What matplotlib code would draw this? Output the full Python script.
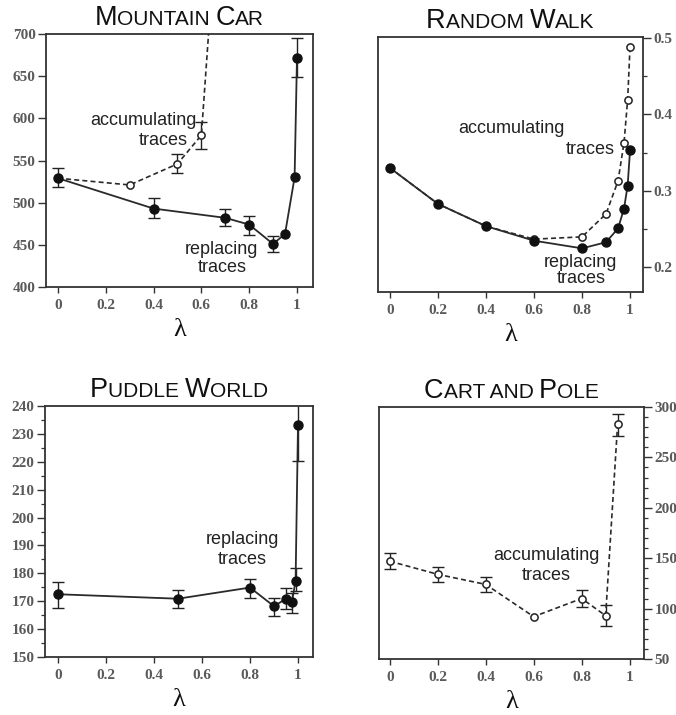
import matplotlib
matplotlib.use("Agg")
import matplotlib.pyplot as plt
import numpy as np
from matplotlib.ticker import MultipleLocator, FixedLocator
from matplotlib.offsetbox import TextArea, HPacker, AnchoredOffsetbox

# ---------------- data ----------------
# Mountain Car (steps per episode)
mc_rep_lam = [0, 0.4, 0.7, 0.8, 0.9, 0.95, 0.99, 1.0]
mc_rep_val = [529, 493, 482, 474, 451, 463, 530, 672]
mc_rep_lo = [11, 11, 10, 12, 10, 0, 0, 23]
mc_rep_hi = [12, 12, 11, 10, 10, 0, 0, 23]
mc_acc_lam = [0, 0.3, 0.5, 0.6, 0.7]
mc_acc_val = [529, 521, 546, 580, 980]
mc_acc_lo = [0, 0, 11, 16, 0]
mc_acc_hi = [0, 0, 12, 16, 0]

# Random Walk (RMS error)
rw_lam = [0, 0.2, 0.4, 0.6, 0.8, 0.9, 0.95, 0.975, 0.99, 1.0]
rw_rep_val = [0.330, 0.283, 0.254, 0.235, 0.225, 0.233, 0.251, 0.277, 0.307, 0.353]
rw_acc_val = [0.330, 0.283, 0.254, 0.237, 0.240, 0.270, 0.313, 0.363, 0.419, 0.488]

# Puddle World (cost per episode)
pw_lam = [0, 0.5, 0.8, 0.9, 0.95, 0.975, 0.99, 1.0]
pw_val = [172.5, 170.9, 174.9, 168.2, 170.9, 169.9, 177.3, 233.2]
pw_lo = [4.9, 3.5, 3.8, 3.4, 3.7, 4.3, 3.7, 12.9]
pw_hi = [4.5, 3.3, 3.0, 3.0, 3.8, 3.2, 4.5, 12.9]

# Cart and Pole (failures)
cp_lam = [0, 0.2, 0.4, 0.6, 0.8, 0.9, 0.95]
cp_val = [147, 134, 124, 92, 110, 93, 283]
cp_lo = [8, 8, 8, 0, 8, 10, 12]
cp_hi = [8, 7, 7, 0, 8, 11, 10]

xticks = [0, 0.2, 0.4, 0.6, 0.8, 1.0]
xticklabels = ["0", "0.2", "0.4", "0.6", "0.8", "1"]

# ---------------- style ----------------
W, H = 676, 715
fig = plt.figure(figsize=(W / 100, H / 100), dpi=100)

SANS = "Liberation Sans"
SERIF = "Liberation Serif"
INK = "#222222"
TICKC = "#5a5a5a"
TICKSIZE = 11


def px_axes(left, top, right, bottom):
    return fig.add_axes([left / W, 1 - bottom / H, (right - left) / W, (bottom - top) / H])


def style_ticklabels(ax):
    for lab in ax.get_xticklabels() + ax.get_yticklabels():
        lab.set_fontfamily(SERIF)
        lab.set_fontweight("bold")
        lab.set_fontsize(TICKSIZE)
        lab.set_color(TICKC)


def style_axes(ax, side):
    for s in ax.spines.values():
        s.set_linewidth(1.3)
        s.set_color("#333333")
    ax.set_xticks(xticks)
    ax.set_xticklabels(xticklabels)
    ax.tick_params(axis="x", which="both", direction="out", length=4.5, width=1,
                   color="#333333", pad=4, top=False, bottom=True)
    if side == "right":
        ax.yaxis.tick_right()
    ax.tick_params(axis="y", which="major", direction="out", length=5.5, width=1,
                   color="#333333", pad=2)
    ax.tick_params(axis="y", which="minor", direction="out", length=3, width=0.9,
                   color="#333333")
    style_ticklabels(ax)
    ax.set_xlabel("λ", fontfamily=SERIF, fontsize=19, color="#111111", labelpad=5)


def small_caps_title(ax, parts, big=19.5, small=15):
    boxes = []
    for txt, is_big in parts:
        boxes.append(TextArea(txt, textprops=dict(fontfamily=SANS, fontsize=big if is_big else small,
                                                  color="#111111")))
    pack = HPacker(children=boxes, align="baseline", pad=0, sep=0)
    anch = AnchoredOffsetbox(loc="lower center", child=pack, pad=0, borderpad=0, frameon=False,
                             bbox_to_anchor=(0.5, 1.012), bbox_transform=ax.transAxes)
    ax.add_artist(anch)


def errs(lam, val, lo, hi):
    lam, val, lo, hi = map(np.asarray, (lam, val, lo, hi))
    m = (lo > 0) | (hi > 0)
    return lam[m], val[m], np.vstack([lo[m], hi[m]])


def draw_errbars(ax, lam, val, lo, hi):
    x, y, e = errs(lam, val, lo, hi)
    ax.errorbar(x, y, yerr=e, fmt="none", ecolor="#222222", elinewidth=1.0,
                capsize=4, capthick=1.0, zorder=2)


def solid(ax, lam, val):
    ax.plot(lam, val, color="#2a2a2a", lw=1.3, marker="o", ms=6.5,
            mfc="#111111", mec="#111111", zorder=4)


def dashed(ax, lam, val):
    ln, = ax.plot(lam, val, color="#2a2a2a", lw=1.2, marker="o", ms=5.2,
                  mfc="white", mec="#222222", mew=1.1, zorder=3)
    ln.set_dashes((3, 1.9))


def label(ax, x, y, s):
    ax.text(x, y, s, fontfamily=SANS, fontsize=13, color=INK, ha="center", va="center", zorder=5)


# ---------------- Mountain Car ----------------
ax = px_axes(46, 34, 313, 287)
draw_errbars(ax, mc_acc_lam, mc_acc_val, mc_acc_lo, mc_acc_hi)
draw_errbars(ax, mc_rep_lam, mc_rep_val, mc_rep_lo, mc_rep_hi)
dashed(ax, mc_acc_lam, mc_acc_val)
solid(ax, mc_rep_lam, mc_rep_val)
ax.set_xlim(-0.05, 1.067)
ax.set_ylim(400, 700)
ax.yaxis.set_major_locator(MultipleLocator(50))
style_axes(ax, "left")
label(ax, 0.356, 598, "accumulating")
label(ax, 0.44, 574, "traces")
label(ax, 0.686, 444, "replacing")
label(ax, 0.686, 423, "traces")
small_caps_title(ax, [("M", True), ("OUNTAIN ", False), ("C", True), ("AR", False)])

# ---------------- Random Walk ----------------
ax = px_axes(378, 37, 643, 292)
dashed(ax, rw_lam, rw_acc_val)
solid(ax, rw_lam, rw_rep_val)
ax.set_xlim(-0.05, 1.054)
ax.set_ylim(0.168, 0.501)
ax.yaxis.set_major_locator(FixedLocator([0.2, 0.3, 0.4, 0.5]))
ax.yaxis.set_minor_locator(FixedLocator([0.25, 0.35, 0.45]))
ax.set_yticklabels(["0.2", "0.3", "0.4", "0.5"])
style_axes(ax, "right")
label(ax, 0.504, 0.382, "accumulating")
label(ax, 0.833, 0.3535, "traces")
label(ax, 0.792, 0.206, "replacing")
label(ax, 0.796, 0.185, "traces")
small_caps_title(ax, [("R", True), ("ANDOM ", False), ("W", True), ("ALK", False)])

# ---------------- Puddle World ----------------
ax = px_axes(45, 406, 313, 657)
draw_errbars(ax, pw_lam, pw_val, pw_lo, pw_hi)
solid(ax, pw_lam, pw_val)
ax.set_xlim(-0.054, 1.0625)
ax.set_ylim(150, 240)
ax.yaxis.set_major_locator(MultipleLocator(10))
ax.yaxis.set_minor_locator(MultipleLocator(5))
style_axes(ax, "left")
label(ax, 0.769, 192, "replacing")
label(ax, 0.769, 184.8, "traces")
small_caps_title(ax, [("P", True), ("UDDLE ", False), ("W", True), ("ORLD", False)])

# ---------------- Cart and Pole ----------------
ax = px_axes(379, 407, 644, 659)
draw_errbars(ax, cp_lam, cp_val, cp_lo, cp_hi)
dashed(ax, cp_lam, cp_val)
ax.set_xlim(-0.045, 1.06)
ax.set_ylim(50, 300)
ax.yaxis.set_major_locator(MultipleLocator(50))
ax.yaxis.set_minor_locator(MultipleLocator(10))
style_axes(ax, "right")
label(ax, 0.653, 152.9, "accumulating")
label(ax, 0.653, 133, "traces")
small_caps_title(ax, [("C", True), ("ART AND ", False), ("P", True), ("OLE", False)])

fig.savefig("out.png", dpi=100, facecolor="white")
